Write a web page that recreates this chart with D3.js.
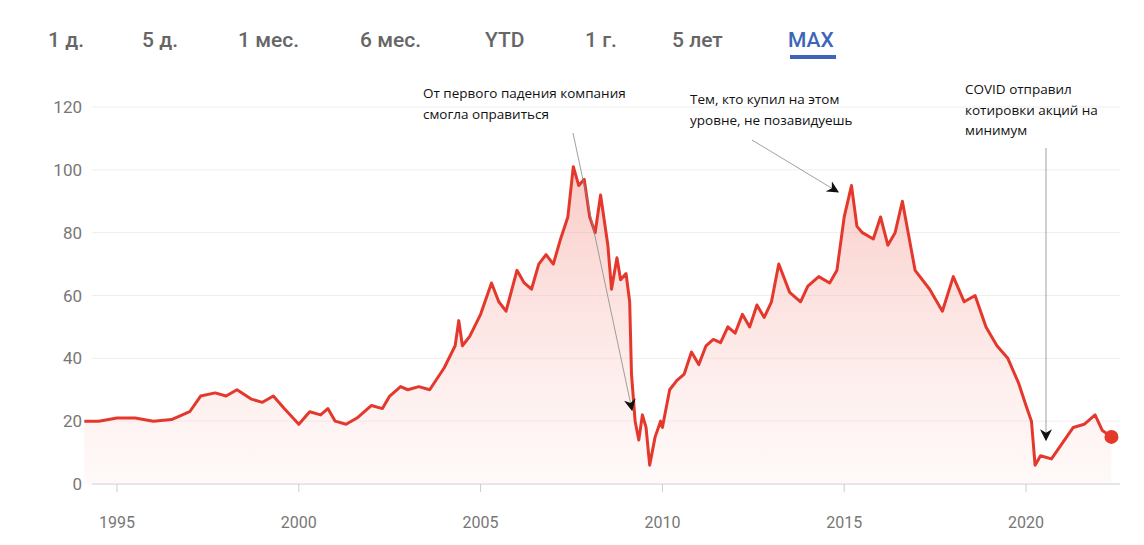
<!DOCTYPE html>
<html><head><meta charset="utf-8">
<script src="https://cdn.jsdelivr.net/npm/d3@7"></script>
<style>body{margin:0;background:#fff}</style>
</head><body>
<svg id="chart" width="1144" height="545"></svg>
<script>
// price (year, value)
var years = [1994.1,1994.5,1995,1995.5,1996,1996.5,1997,1997.3,1997.7,1998,1998.3,1998.7,1999,1999.3,1999.6,2000,2000.3,2000.6,2000.8,2001,2001.3,2001.6,2002,2002.3,2002.5,2002.8,2003,2003.3,2003.6,2004,2004.3,2004.4,2004.5,2004.7,2005,2005.3,2005.5,2005.7,2006,2006.2,2006.4,2006.6,2006.8,2007,2007.2,2007.4,2007.55,2007.7,2007.85,2008,2008.15,2008.3,2008.5,2008.6,2008.75,2008.85,2009,2009.1,2009.15,2009.25,2009.35,2009.45,2009.55,2009.65,2009.8,2009.95,2010,2010.2,2010.4,2010.6,2010.8,2011,2011.2,2011.4,2011.6,2011.8,2012,2012.2,2012.4,2012.6,2012.8,2013,2013.2,2013.5,2013.8,2014,2014.3,2014.6,2014.8,2015,2015.2,2015.35,2015.5,2015.8,2016,2016.2,2016.4,2016.6,2016.95,2017.35,2017.7,2018,2018.3,2018.6,2018.9,2019.2,2019.5,2019.8,2020,2020.15,2020.25,2020.4,2020.7,2021,2021.3,2021.6,2021.9,2022.1,2022.35];
var prices = [20,20,21,21,20,20.5,23,28,29,28,30,27,26,28,24,19,23,22,24,20,19,21,25,24,28,31,30,31,30,37,44,52,44,47,54,64,58,55,68,64,62,70,73,70,78,85,101,95,97,85,80,92,76,62,72,65,67,58,35,20,14,22,18,6,15,20,18,30,33,35,42,38,44,46,45,50,48,54,50,57,53,58,70,61,58,63,66,64,68,85,95,82,80,78,85,76,80,90,68,62,55,66,58,60,50,44,40,32,25,20,6,9,8,13,18,19,22,17,15];
var yTicks = [0,20,40,60,80,100,120];
var xTicks = [1995,2000,2005,2010,2015,2020];
var tabs = ["1 д.","5 д.","1 мес.","6 мес.","YTD","1 г.","5 лет","MAX"];
var tabX = [48,142,238,360,485,585,672,788];
var notes = [
  {lines:["От первого падения компания","смогла оправиться"], x:423, y:98, from:[573,133], to:[632,410]},
  {lines:["Тем, кто купил на этом","уровне, не позавидуешь"], x:690, y:104, from:[752,140], to:[838,192]},
  {lines:["COVID отправил","котировки акций на","минимум"], x:965, y:94, from:[1046,148], to:[1046,440]}
];

var svg = d3.select("#chart");
var x = d3.scaleLinear().domain([1995,2020]).range([117,1026]);
var y = d3.scaleLinear().domain([0,120]).range([484,107]);

var defs = svg.append("defs");
var g = defs.append("linearGradient").attr("id","fill").attr("x1",0).attr("y1",0).attr("x2",0).attr("y2",1);
g.append("stop").attr("offset","0%").attr("stop-color","#f28b82").attr("stop-opacity",0.45);
g.append("stop").attr("offset","100%").attr("stop-color","#fde8e6").attr("stop-opacity",0.25);
defs.append("marker").attr("id","ah").attr("viewBox","0 0 10 10").attr("refX",9).attr("refY",5)
  .attr("markerWidth",12).attr("markerHeight",12).attr("markerUnits","userSpaceOnUse").attr("orient","auto")
  .append("path").attr("d","M0,0 L10,5 L0,10 L3,5 Z").attr("fill","#111");

tabs.forEach(function(t,i){
  svg.append("text").attr("x",tabX[i]).attr("y",47).text(t)
    .attr("font-family","Roboto, sans-serif").attr("font-size",21).attr("font-weight",500)
    .attr("fill", t=="MAX" ? "#3d66b8" : "#666");
});
svg.append("rect").attr("x",790).attr("y",55).attr("width",46).attr("height",4).attr("fill","#3d66b8");

yTicks.forEach(function(v){
  svg.append("line").attr("x1",92).attr("x2",1120).attr("y1",y(v)).attr("y2",y(v))
    .attr("stroke", v==0 ? "#ccc" : "#eee");
  svg.append("text").attr("x",82).attr("y",y(v)+6).attr("text-anchor","end").text(v)
    .attr("font-family","Roboto, sans-serif").attr("font-size",17).attr("fill","#777");
});
xTicks.forEach(function(v){
  svg.append("line").attr("x1",x(v)).attr("x2",x(v)).attr("y1",484).attr("y2",492).attr("stroke","#ccc");
  svg.append("text").attr("x",x(v)).attr("y",528).attr("text-anchor","middle").text(v)
    .attr("font-family","Roboto, sans-serif").attr("font-size",16).attr("fill","#777");
});

var pts = years.map(function(d,i){return [d,prices[i]];});
svg.append("path").datum(pts).attr("fill","url(#fill)")
  .attr("d", d3.area().x(function(d){return x(d[0]);}).y0(y(0)).y1(function(d){return y(d[1]);}));
svg.append("path").datum(pts).attr("fill","none").attr("stroke","#e5382c").attr("stroke-width",3)
  .attr("stroke-linejoin","round")
  .attr("d", d3.line().x(function(d){return x(d[0]);}).y(function(d){return y(d[1]);}));
var last = pts[pts.length-1];
svg.append("circle").attr("cx",x(last[0])).attr("cy",y(last[1])).attr("r",7).attr("fill","#e5382c");

notes.forEach(function(n){
  n.lines.forEach(function(l,i){
    svg.append("text").attr("x",n.x).attr("y",n.y+i*20.5).text(l)
      .attr("font-family","'Open Sans', sans-serif").attr("font-size",13.5).attr("fill","#111");
  });
  svg.append("line").attr("x1",n.from[0]).attr("y1",n.from[1]).attr("x2",n.to[0]).attr("y2",n.to[1])
    .attr("stroke","#888").attr("stroke-width",0.8).attr("marker-end","url(#ah)");
});
</script>
</body></html>
